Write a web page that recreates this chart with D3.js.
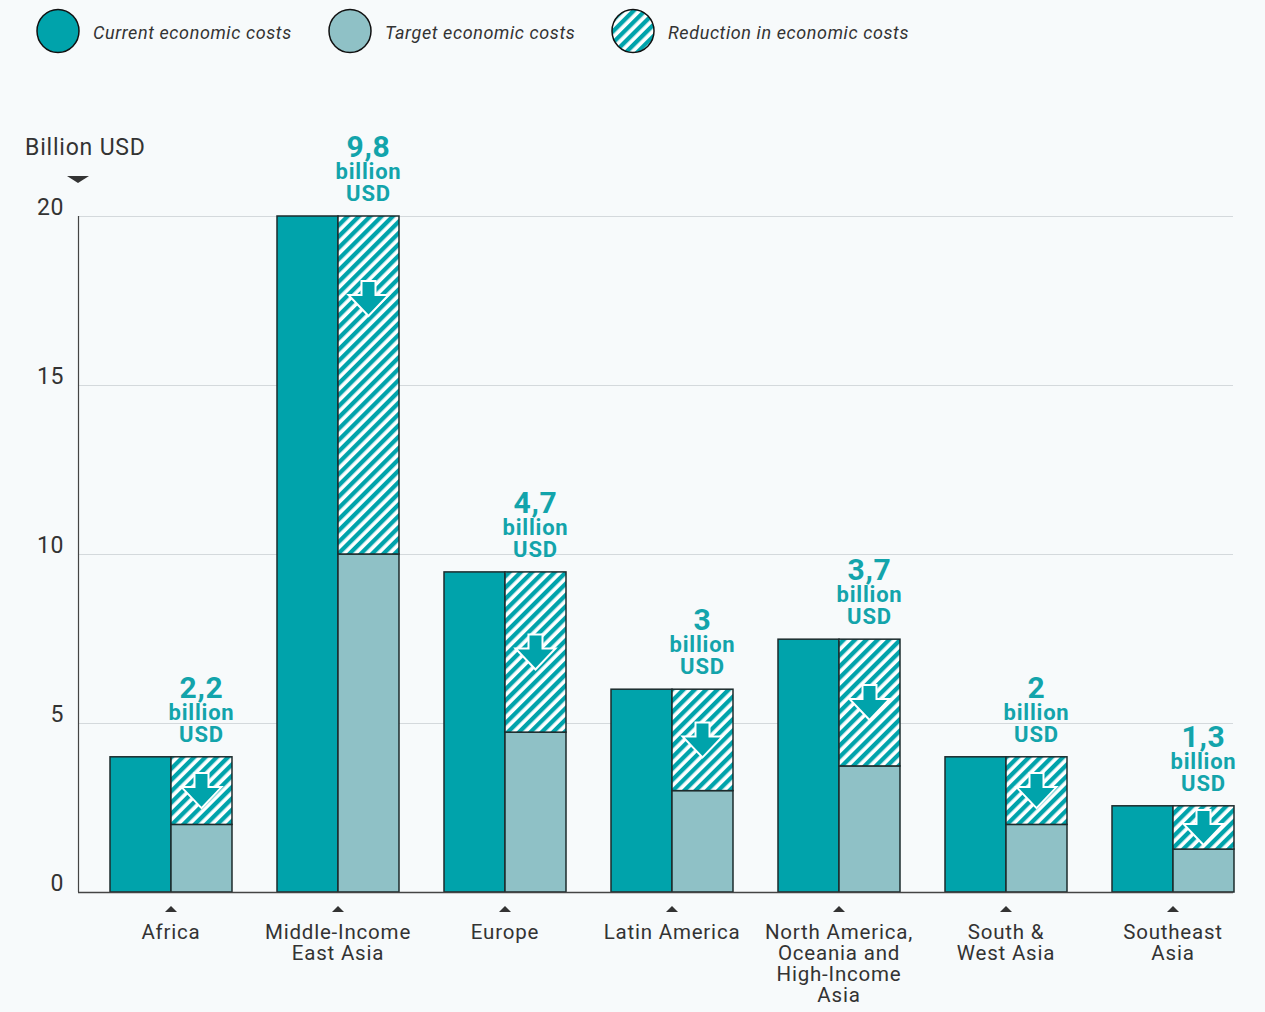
<!DOCTYPE html>
<html>
<head>
<meta charset="utf-8">
<script src="https://cdn.jsdelivr.net/npm/d3@7"></script>
<style>
  body { margin: 0; background: #f7fafb; }
  svg { display: block; }
  text { font-family: "Roboto", "DejaVu Sans", sans-serif; }
</style>
</head>
<body>
<div id="chart"></div>
<script>
// regions and costs (billion USD)
var regions = [
  ["Africa"],
  ["Middle-Income", "East Asia"],
  ["Europe"],
  ["Latin America"],
  ["North America,", "Oceania and", "High-Income", "Asia"],
  ["South &", "West Asia"],
  ["Southeast", "Asia"]
];
var currentCosts = [4, 20, 9.47, 6, 7.48, 4, 2.55];
var targetCosts = [2, 10, 4.73, 3, 3.73, 2, 1.27];
var reductionLabels = ["2,2", "9,8", "4,7", "3", "3,7", "2", "1,3"];
var yTicks = [0, 5, 10, 15, 20];
var legendItems = ["Current economic costs", "Target economic costs", "Reduction in economic costs"];

var teal = "#00a3ab", light = "#8fc1c6", ink = "#333";

var W = 1265, H = 1012;
var margin = { top: 216, right: 32, bottom: 120, left: 78 };
var width = W - margin.left - margin.right;
var height = H - margin.top - margin.bottom;

var svg = d3.select("#chart").append("svg")
  .attr("width", W).attr("height", H);

// hatch pattern
var defs = svg.append("defs");
var pat = defs.append("pattern")
  .attr("id", "hatch")
  .attr("patternUnits", "userSpaceOnUse")
  .attr("width", 8).attr("height", 8)
  .attr("patternTransform", "rotate(45)");
pat.append("rect").attr("width", 8).attr("height", 8).attr("fill", "#fff");
pat.append("rect").attr("width", 4.3).attr("height", 8).attr("fill", teal);

var g = svg.append("g").attr("transform", "translate(" + margin.left + "," + margin.top + ")");

var x = d3.scaleBand().domain(d3.range(regions.length)).range([32, 1156]).paddingInner(0.2695).paddingOuter(0);
var y = d3.scaleLinear().domain([0, 20]).range([height, 0]);

// gridlines + y labels
g.selectAll(".grid").data(yTicks.filter(function (d) { return d > 0; }))
  .enter().append("line")
  .attr("x1", 0).attr("x2", width + 0)
  .attr("y1", function (d) { return y(d) + 0.5; }).attr("y2", function (d) { return y(d) + 0.5; })
  .attr("stroke", "#d4d9dc").attr("stroke-width", 1);

g.selectAll(".ytick").data(yTicks).enter().append("text")
  .attr("x", -14).attr("y", function (d) { return y(d) - 1; })
  .attr("text-anchor", "end")
  .attr("font-size", 23).attr("letter-spacing", 0.6).attr("fill", ink)
  .text(function (d) { return d; });

// axis title
svg.append("text").attr("x", 25).attr("y", 155)
  .attr("font-size", 23).attr("letter-spacing", 0.8).attr("fill", ink).text("Billion USD");
svg.append("path").attr("d", "M67,176 L89,176 L78,183 Z").attr("fill", ink);

var bw = x.bandwidth() / 2;

var bars = g.selectAll(".region").data(regions).enter().append("g")
  .attr("transform", function (d, i) { return "translate(" + x(i) + ",0)"; });

// current
bars.append("rect")
  .attr("x", 0).attr("width", bw)
  .attr("y", function (d, i) { return y(currentCosts[i]); })
  .attr("height", function (d, i) { return height - y(currentCosts[i]); })
  .attr("fill", teal).attr("stroke", "#1d2b2c").attr("stroke-width", 1.5);

// target
bars.append("rect")
  .attr("x", bw).attr("width", bw)
  .attr("y", function (d, i) { return y(targetCosts[i]); })
  .attr("height", function (d, i) { return height - y(targetCosts[i]); })
  .attr("fill", light).attr("stroke", "#1d2b2c").attr("stroke-width", 1.5);

// reduction (hatched)
bars.append("rect")
  .attr("x", bw).attr("width", bw)
  .attr("y", function (d, i) { return y(currentCosts[i]); })
  .attr("height", function (d, i) { return y(targetCosts[i]) - y(currentCosts[i]); })
  .attr("fill", "url(#hatch)").attr("stroke", "#1d2b2c").attr("stroke-width", 1.5);

// down arrows
var arrowPath = "M-7,0 H7 V14 H20 L0,35 L-20,14 H-7 Z";
bars.append("path")
  .attr("d", arrowPath)
  .attr("transform", function (d, i) {
    var top = y(currentCosts[i]);
    var h = y(targetCosts[i]) - top;
    var off = Math.min((h - 35) / 2, 65);
    return "translate(" + (bw * 1.5) + "," + (top + off) + ")";
  })
  .attr("fill", teal).attr("stroke", "#fff").attr("stroke-width", 2).attr("stroke-linejoin", "miter");

// reduction labels
bars.each(function (d, i) {
  var top = y(currentCosts[i]);
  var t = d3.select(this).append("text")
    .attr("text-anchor", "middle").attr("fill", "#13a4ab").attr("font-weight", "bold")
    .attr("letter-spacing", 0.8);
  t.append("tspan").attr("x", bw * 1.5).attr("y", top - 59).attr("font-size", 30).text(reductionLabels[i]);
  t.append("tspan").attr("x", bw * 1.5).attr("y", top - 37).attr("font-size", 22).text("billion");
  t.append("tspan").attr("x", bw * 1.5).attr("y", top - 15).attr("font-size", 22).text("USD");
});

// axes lines
g.append("line").attr("x1", 0.5).attr("x2", 0.5).attr("y1", 0).attr("y2", height)
  .attr("stroke", "#444").attr("stroke-width", 1.2);
g.append("line").attr("x1", 0).attr("x2", width).attr("y1", height + 0.5).attr("y2", height + 0.5)
  .attr("stroke", "#444").attr("stroke-width", 1.5);

// category ticks + labels
bars.append("path")
  .attr("d", "M" + (bw - 6) + "," + (height + 20) + " L" + (bw + 6) + "," + (height + 20) + " L" + bw + "," + (height + 14) + " Z")
  .attr("fill", ink);
bars.each(function (d) {
  var t = d3.select(this).append("text")
    .attr("text-anchor", "middle").attr("fill", ink).attr("font-size", 20.5)
    .attr("letter-spacing", 0.8);
  d.forEach(function (line, k) {
    t.append("tspan").attr("x", bw).attr("y", height + 47 + k * 21).text(line);
  });
});

// legend
var lx = [58, 350, 633];
var lfill = [teal, light, "url(#hatch)"];
var leg = svg.selectAll(".leg").data(legendItems).enter().append("g")
  .attr("transform", function (d, i) { return "translate(" + lx[i] + ",31)"; });
leg.append("ellipse").attr("rx", 21).attr("ry", 21.5)
  .attr("fill", function (d, i) { return lfill[i]; })
  .attr("stroke", "#111").attr("stroke-width", 1.5);
leg.append("text").attr("x", 35).attr("y", 8)
  .attr("font-size", 18).attr("font-style", "italic").attr("letter-spacing", 0.6).attr("fill", ink)
  .text(function (d) { return d; });
</script>
</body>
</html>
